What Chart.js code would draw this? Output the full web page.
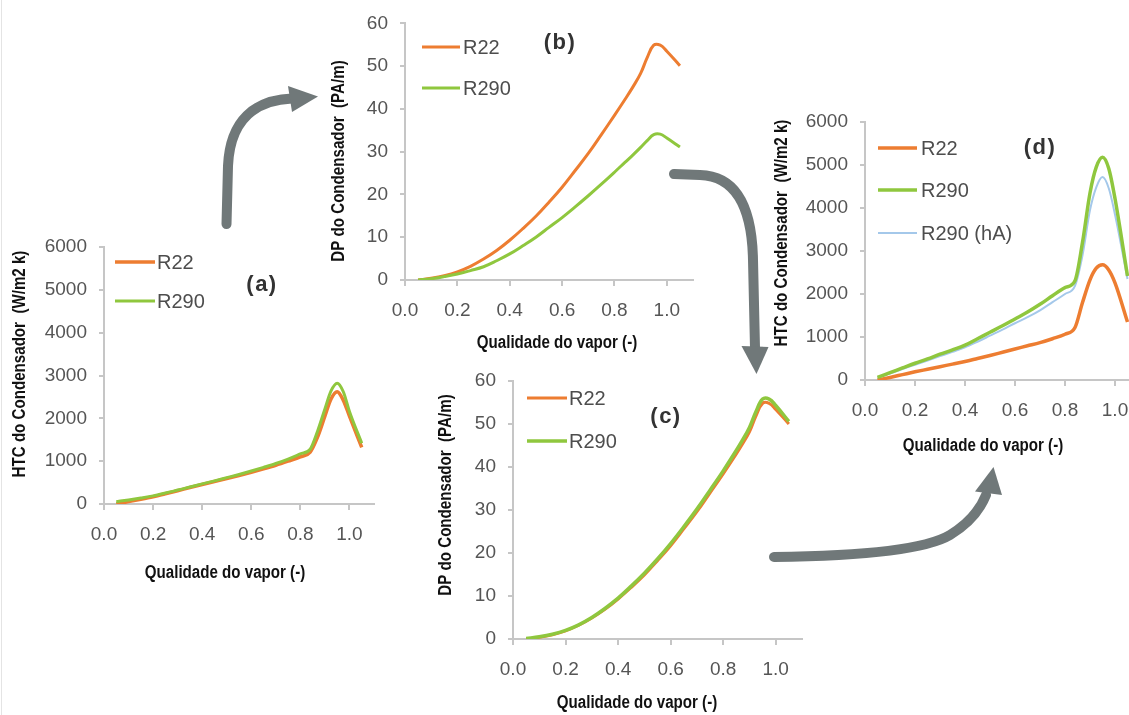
<!DOCTYPE html>
<html>
<head>
<meta charset="utf-8">
<script src="https://cdn.jsdelivr.net/npm/chart.js@4.4.0/dist/chart.umd.min.js"></script>
<style>
  html, body { margin: 0; padding: 0; background: #fff; overflow: hidden; }
  #page { position: relative; width: 1129px; height: 715px; overflow: hidden; background: #fff; }
  #page canvas, #page svg { position: absolute; left: 0; top: 0; }
  #edge { position: absolute; left: 1px; top: 0; width: 1px; height: 715px; background: #e4e4e4; }
</style>
</head>
<body>
<div id="page">
  <div id="edge"></div>
  <svg width="1129" height="715" viewBox="0 0 1129 715">
    <g fill="none" stroke="#707879" stroke-width="10" stroke-linecap="round">
      <path d="M226.5,224 L228,166 C230,120 255,100 292,98.5"/>
      <path d="M674,174 L700,175 C735,176 752,205 753,260 L755,348"/>
      <path d="M774,557 C860,556 925,550 950,535 C968,524 980,510 986,495"/>
    </g>
    <g fill="#707879">
      <polygon points="288,86 292,112 318,96.5"/>
      <polygon points="741.5,346 768.5,347 756.5,374"/>
      <polygon points="975,491.5 1002,495 993.5,467"/>
    </g>
  </svg>
  <canvas id="panelA" width="1160" height="715"></canvas>
  <canvas id="panelB" width="1160" height="715"></canvas>
  <canvas id="panelC" width="1160" height="715"></canvas>
  <canvas id="panelD" width="1160" height="715"></canvas>
</div>
<script>
// Vapour quality at which every series is sampled
const quality = [0.05, 0.10, 0.15, 0.20, 0.25, 0.30, 0.35, 0.40, 0.45, 0.50, 0.55, 0.60,
                 0.65, 0.70, 0.75, 0.80, 0.84, 0.87, 0.90, 0.925, 0.95, 0.975, 1.00, 1.05];

// (a) heat transfer coefficient, W/m2 K
const htcA_R22  = [0, 55, 110, 170, 240, 310, 385, 455, 525, 595, 665, 740,
                   820, 905, 1000, 1100, 1210, 1560, 2050, 2450, 2620, 2420, 2050, 1320];
const htcA_R290 = [55, 95, 140, 190, 255, 325, 395, 470, 540, 615, 690, 770,
                   855, 945, 1050, 1170, 1280, 1700, 2220, 2640, 2820, 2620, 2160, 1420];

// (b) pressure drop, Pa/m
const dpB_R22  = [0, 0.4, 1.0, 1.9, 3.2, 4.9, 6.9, 9.3, 12.0, 14.9, 18.2, 21.7,
                  25.6, 29.6, 34.0, 38.5, 42.2, 45.1, 48.3, 52.0, 54.9, 54.9, 53.5, 50.1];
const dpB_R290 = [0, 0.3, 0.8, 1.4, 2.2, 3.1, 4.5, 6.1, 8.0, 10.0, 12.3, 14.6,
                  17.1, 19.7, 22.4, 25.2, 27.5, 29.2, 31.0, 32.6, 34.0, 34.1, 33.2, 31.1];

// (c) pressure drop, Pa/m
const dpC_R22  = [0, 0.4, 1.0, 1.9, 3.2, 4.9, 6.9, 9.3, 12.0, 14.9, 18.2, 21.7,
                  25.6, 29.6, 34.0, 38.4, 42.1, 45.0, 48.2, 51.9, 54.8, 54.8, 53.4, 50.0];
const dpC_R290 = [0.1, 0.5, 1.1, 2.0, 3.3, 5.0, 7.1, 9.5, 12.3, 15.3, 18.6, 22.2,
                  26.1, 30.2, 34.6, 39.1, 42.9, 45.9, 49.2, 52.9, 55.8, 55.8, 54.3, 50.6];

// (d) heat transfer coefficient, W/m2 K
const htcD_R22    = [0, 60, 125, 190, 250, 310, 370, 430, 500, 570, 645, 720,
                     795, 870, 960, 1065, 1220, 1800, 2330, 2600, 2680, 2560, 2260, 1350];
const htcD_R290   = [60, 170, 280, 390, 490, 600, 700, 810, 960, 1110, 1260, 1420,
                     1580, 1760, 1960, 2150, 2310, 3200, 4350, 4950, 5180, 4920, 4220, 2420];
const htcD_R290hA = [50, 150, 255, 355, 455, 555, 655, 760, 890, 1030, 1170, 1320,
                     1460, 1620, 1810, 2000, 2190, 2900, 3950, 4480, 4720, 4460, 3850, 2350];

// Tick labels
const xTicks   = [0, 0.2, 0.4, 0.6, 0.8, 1.0];
const htcTicks = [0, 1000, 2000, 3000, 4000, 5000, 6000];
const dpTicks  = [0, 10, 20, 30, 40, 50, 60];

const xTitle   = 'Qualidade do vapor (-)';
const htcTitle = 'HTC do Condensador  (W/m2 k)';
const dpTitle  = 'DP do Condensador  (PA/m)';

const ORANGE = '#ED7D31';
const GREEN  = '#8FC73E';
const BLUE   = '#A4C8EA';

const FONT = "'Liberation Sans', Arial, Helvetica, sans-serif";
Chart.defaults.font.family = FONT;

const CW = 1160, CH = 715;

// Axis titles, inline legend and panel tag
const panelDecor = {
  id: 'panelDecor',
  afterDraw(chart, args, o) {
    const ctx = chart.ctx;
    const condensed = (text, x, y, rot) => {
      ctx.save();
      ctx.translate(x, y);
      ctx.rotate(rot);
      ctx.scale(0.84, 1);
      ctx.font = 'bold 18px ' + FONT;
      ctx.fillStyle = '#111';
      ctx.textAlign = 'center';
      ctx.textBaseline = 'middle';
      ctx.fillText(text, 0, 0);
      ctx.restore();
    };
    condensed(o.xTitle.text, o.xTitle.x, o.xTitle.y, 0);
    condensed(o.yTitle.text, o.yTitle.x, o.yTitle.y, -Math.PI / 2);

    ctx.save();
    chart.data.datasets.forEach((ds, i) => {
      const y = o.legend.ys[i];
      ctx.strokeStyle = ds.borderColor;
      ctx.lineWidth = ds.borderWidth;
      ctx.beginPath();
      ctx.moveTo(o.legend.x1, y);
      ctx.lineTo(o.legend.x2, y);
      ctx.stroke();
      ctx.fillStyle = '#4d4d4d';
      ctx.font = '20px ' + FONT;
      ctx.textAlign = 'left';
      ctx.textBaseline = 'middle';
      ctx.fillText(ds.label, o.legend.textX, y + 1);
    });
    ctx.restore();

    ctx.save();
    ctx.font = 'bold 22px ' + FONT;
    ctx.fillStyle = '#333';
    ctx.textAlign = 'left';
    ctx.textBaseline = 'middle';
    if ('letterSpacing' in ctx) ctx.letterSpacing = '1.5px';
    const w = ctx.measureText(o.tag.text).width;
    ctx.fillText(o.tag.text, o.tag.x - w / 2, o.tag.y);
    ctx.restore();
  }
};

function series(label, values, color, width, order, smooth) {
  const ds = {
    label,
    data: quality.map((q, i) => ({ x: q, y: values[i] })),
    borderColor: color,
    borderWidth: width,
    pointRadius: 0,
    fill: false,
    order
  };
  if (smooth === 'monotone') ds.cubicInterpolationMode = 'monotone';
  else ds.tension = 0.4;
  return ds;
}

function makePanel(id, p) {
  const axisColor = '#c6c6c6';
  new Chart(document.getElementById(id), {
    type: 'line',
    data: { datasets: p.datasets },
    plugins: [panelDecor],
    options: {
      responsive: false,
      animation: false,
      events: [],
      layout: {
        padding: {
          left: p.area.left - p.yW,
          top: p.area.top,
          right: CW - p.area.right,
          bottom: CH - p.area.bottom - p.xH
        }
      },
      plugins: {
        legend: { display: false },
        tooltip: { enabled: false },
        panelDecor: p.decor
      },
      scales: {
        x: {
          type: 'linear',
          min: 0,
          max: 1.1,
          afterBuildTicks: s => { s.ticks = xTicks.map(v => ({ value: v })); },
          afterFit: s => { s.height = p.xH; },
          ticks: {
            callback: v => Number(v).toFixed(1),
            font: { size: 19 },
            color: '#555',
            padding: 13,
            maxRotation: 0,
            autoSkip: false
          },
          grid: { drawOnChartArea: false, drawTicks: true, tickLength: 6, color: axisColor, lineWidth: 2 },
          border: { display: true, color: axisColor, width: 2 }
        },
        y: {
          min: 0,
          max: p.yTicks[p.yTicks.length - 1],
          afterBuildTicks: s => { s.ticks = p.yTicks.map(v => ({ value: v })); },
          afterFit: s => { s.width = p.yW; },
          ticks: {
            callback: v => String(v),
            font: { size: 19 },
            color: '#555',
            padding: 12
          },
          grid: { drawOnChartArea: false, drawTicks: true, tickLength: 5, color: axisColor, lineWidth: 2 },
          border: { display: true, color: axisColor, width: 2 }
        }
      }
    }
  });
}

makePanel('panelA', {
  area: { left: 104, top: 247, right: 374, bottom: 504 },
  yW: 70, xH: 60, yTicks: htcTicks,
  datasets: [
    series('R22', htcA_R22, ORANGE, 3.5, 1, 'monotone'),
    series('R290', htcA_R290, GREEN, 3, 0, 'monotone')
  ],
  decor: {
    xTitle: { text: xTitle, x: 225, y: 573 },
    yTitle: { text: htcTitle, x: 20, y: 364 },
    legend: { x1: 115, x2: 155, ys: [262, 301], textX: 157 },
    tag: { text: '(a)', x: 262, y: 285 }
  }
});

makePanel('panelB', {
  area: { left: 405, top: 23, right: 693, bottom: 280 },
  yW: 60, xH: 60, yTicks: dpTicks,
  datasets: [
    series('R22', dpB_R22, ORANGE, 3, 1),
    series('R290', dpB_R290, GREEN, 3, 0)
  ],
  decor: {
    xTitle: { text: xTitle, x: 557, y: 343 },
    yTitle: { text: dpTitle, x: 339, y: 161 },
    legend: { x1: 422, x2: 460, ys: [47, 88], textX: 463 },
    tag: { text: '(b)', x: 560, y: 43 }
  }
});

makePanel('panelC', {
  area: { left: 513, top: 381, right: 802, bottom: 639 },
  yW: 60, xH: 60, yTicks: dpTicks,
  datasets: [
    series('R22', dpC_R22, ORANGE, 3, 1),
    series('R290', dpC_R290, GREEN, 3.5, 0)
  ],
  decor: {
    xTitle: { text: xTitle, x: 637, y: 703 },
    yTitle: { text: dpTitle, x: 446, y: 495 },
    legend: { x1: 527, x2: 567, ys: [398, 441], textX: 569 },
    tag: { text: '(c)', x: 666, y: 417 }
  }
});

makePanel('panelD', {
  area: { left: 865, top: 122, right: 1140, bottom: 380 },
  yW: 70, xH: 60, yTicks: htcTicks,
  datasets: [
    series('R22', htcD_R22, ORANGE, 3.5, 1, 'monotone'),
    series('R290', htcD_R290, GREEN, 3.5, 0, 'monotone'),
    series('R290 (hA)', htcD_R290hA, BLUE, 2, 2, 'monotone')
  ],
  decor: {
    xTitle: { text: xTitle, x: 983, y: 446 },
    yTitle: { text: htcTitle, x: 782, y: 233 },
    legend: { x1: 878, x2: 917, ys: [148, 190, 233], textX: 921 },
    tag: { text: '(d)', x: 1040, y: 148 }
  }
});
</script>
</body>
</html>
